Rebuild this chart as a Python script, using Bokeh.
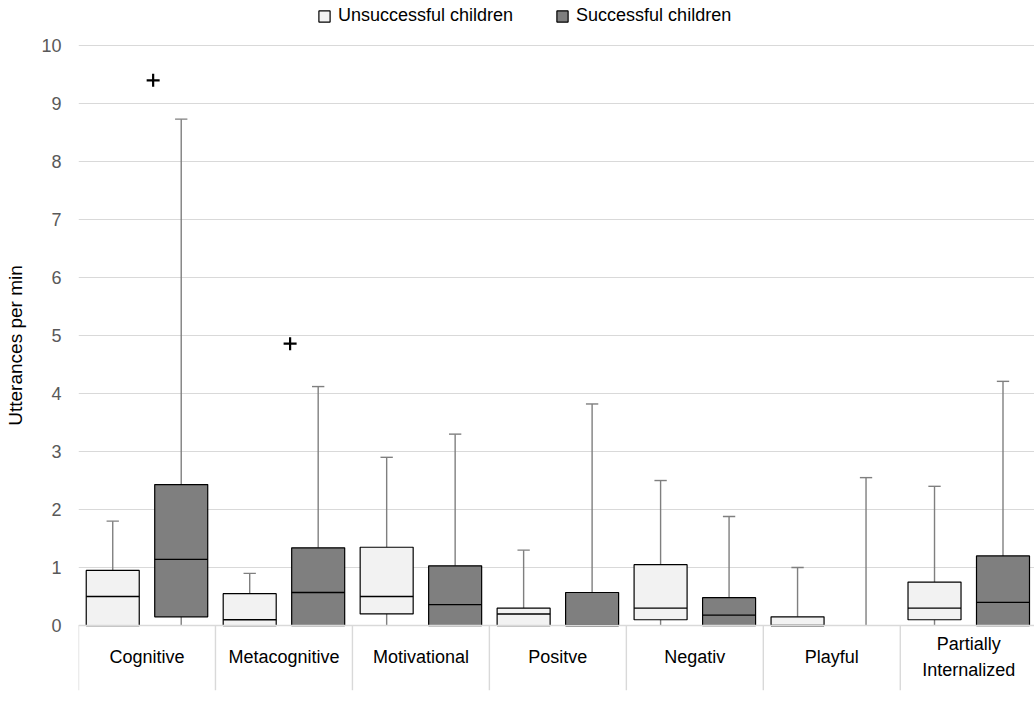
from bokeh.plotting import figure
from bokeh.models import (ColumnDataSource, FixedTicker, Range1d, Span, Legend,
                          LegendItem, CDSView, BooleanFilter)
from bokeh.core.properties import value
from bokeh.embed import file_html
from bokeh.resources import INLINE

# ---- data -------------------------------------------------------------
categories = ["Cognitive", "Metacognitive", "Motivational", "Positve",
              "Negativ", "Playful", "Partially\nInternalized"]

# Unsuccessful children: whisker min, Q1, median, Q3, whisker max
uns_min = [0, 0, 0, 0, 0, 0, 0]
uns_q1 = [0, 0, 0.2, 0, 0.1, 0, 0.1]
uns_med = [0.5, 0.1, 0.5, 0.2, 0.3, 0, 0.3]
uns_q3 = [0.95, 0.55, 1.35, 0.3, 1.05, 0.15, 0.75]
uns_max = [1.8, 0.9, 2.9, 1.3, 2.5, 1.0, 2.4]

# Successful children
suc_min = [0, 0, 0, 0, 0, 0, 0]
suc_q1 = [0.15, 0, 0, 0, 0, 0, 0]
suc_med = [1.14, 0.57, 0.36, 0, 0.18, 0, 0.4]
suc_q3 = [2.43, 1.34, 1.03, 0.57, 0.48, 0, 1.2]
suc_max = [8.73, 4.12, 3.3, 3.82, 1.88, 2.55, 4.21]

# Outliers (successful children)
out_cat = ["Cognitive", "Metacognitive"]
out_val = [9.4, 4.86]

y_ticks = list(range(0, 11))

# ---- layout constants -------------------------------------------------
FONT = "Liberation Sans"
BOX_W = 0.387
DODGE = 0.25
CAP_W = 0.09
TABLE_BOTTOM = -1.12
LABEL_Y = -0.55

n = len(categories)
centers = [i + 0.5 for i in range(n)]


def group_source(offset, mn, q1, med, q3, mx):
    xs = [c + offset for c in centers]
    return ColumnDataSource(dict(
        x=xs, mn=mn, q1=q1, med=med, q3=q3, mx=mx,
        left=[x - BOX_W / 2 for x in xs], right=[x + BOX_W / 2 for x in xs],
        cl=[x - CAP_W / 2 for x in xs], cr=[x + CAP_W / 2 for x in xs],
    ))


src_uns = group_source(-DODGE, uns_min, uns_q1, uns_med, uns_q3, uns_max)
src_suc = group_source(DODGE, suc_min, suc_q1, suc_med, suc_q3, suc_max)

p = figure(width=1034, height=717, output_backend="svg", toolbar_location=None,
           x_range=Range1d(0, 6.98), y_range=Range1d(TABLE_BOTTOM, 10.776),
           min_border_left=78, min_border_right=0, min_border_top=0,
           min_border_bottom=27)
p.outline_line_color = None
p.background_fill_color = "white"
p.border_fill_color = "white"
p.xaxis.visible = False
p.xgrid.visible = False

p.ygrid.ticker = FixedTicker(ticks=y_ticks)
p.ygrid.grid_line_color = "#d9d9d9"
p.ygrid.grid_line_width = 1

yax = p.yaxis[0]
yax.ticker = FixedTicker(ticks=y_ticks)
yax.axis_line_color = None
yax.major_tick_line_color = None
yax.minor_tick_line_color = None
yax.major_tick_out = 0
yax.major_tick_in = 0
yax.major_label_text_font = FONT
yax.major_label_text_font_size = "18px"
yax.major_label_text_color = "#595959"
yax.major_label_standoff = 17
yax.axis_label = "Utterances per min"
yax.axis_label_text_font = FONT
yax.axis_label_text_font_size = "19px"
yax.axis_label_text_font_style = "normal"
yax.axis_label_text_color = "black"
yax.axis_label_standoff = 12

WHISKER = "#7f7f7f"


def draw_group(src, fill):
    # whiskers
    p.segment(x0="x", y0="q3", x1="x", y1="mx", source=src,
              line_color=WHISKER, line_width=1.4)
    p.segment(x0="x", y0="q1", x1="x", y1="mn", source=src,
              line_color=WHISKER, line_width=1.4)
    p.segment(x0="cl", y0="mx", x1="cr", y1="mx", source=src,
              line_color=WHISKER, line_width=1.4)
    # box (only where the interquartile range is non-empty)
    has_box = [hi > lo for lo, hi in zip(src.data["q1"], src.data["q3"])]
    r = p.vbar(x="x", width=BOX_W, bottom="q1", top="q3", source=src,
               view=CDSView(filter=BooleanFilter(has_box)),
               fill_color=fill, line_color="black", line_width=1.2)
    # median
    p.segment(x0="left", y0="med", x1="right", y1="med", source=src,
              view=CDSView(filter=BooleanFilter(has_box)),
              line_color="black", line_width=1.4)
    return r


r_uns = draw_group(src_uns, "#f2f2f2")
r_suc = draw_group(src_suc, "#7f7f7f")

# outliers
out_x = [categories.index(c) + 0.5 + 0.045 for c in out_cat]
p.scatter(x=out_x, y=out_val, marker="cross", size=13, line_width=2.2,
          line_color="black")

# baseline drawn over the box bottoms
p.add_layout(Span(location=0, dimension="width", line_color="#d9d9d9",
                  line_width=1.4, level="overlay"))

# category table below the baseline
bounds = list(range(n + 1))
p.segment(x0=bounds, y0=[0] * len(bounds), x1=bounds,
          y1=[TABLE_BOTTOM] * len(bounds), line_color="#d9d9d9", line_width=1.4)
p.text(x=centers, y=[LABEL_Y] * n, text=categories,
       text_font=value(FONT), text_font_size="18px", text_color="black",
       text_align="center", text_baseline="middle", text_line_height=1.3)

legend = Legend(items=[LegendItem(label="Unsuccessful children", renderers=[r_uns]),
                       LegendItem(label="Successful children", renderers=[r_suc])],
                orientation="horizontal", location=(239, 664),
                label_text_font=FONT, label_text_font_size="18px",
                label_text_color="black", glyph_width=14, glyph_height=14,
                label_standoff=7, spacing=42, padding=0, margin=0,
                label_height=20, border_line_color=None,
                background_fill_alpha=0)
p.add_layout(legend)

open("out.html", "w").write(file_html(p, INLINE))
